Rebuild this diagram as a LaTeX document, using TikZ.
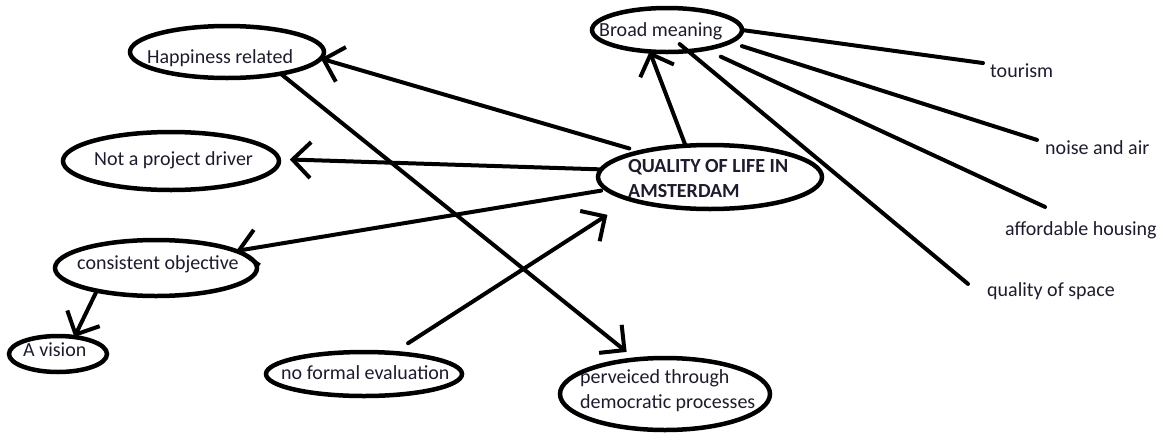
\documentclass[tikz,border=0pt]{standalone}
\usepackage{fontspec}
\setmainfont{Carlito}
\usetikzlibrary{arrows.meta,shapes.geometric}
\definecolor{ink}{RGB}{28,28,45}
\begin{document}
\begin{tikzpicture}[x=1pt,y=-1pt,
  ell/.style={draw=black, line width=4.5pt, ellipse, inner sep=0pt, outer sep=0pt},
  lbl/.style={inner sep=0pt, text=ink, font=\fontsize{20}{24.5}\selectfont, anchor=base west},
  blbl/.style={lbl, font=\bfseries\fontsize{20}{24.5}\selectfont, align=left},
  ln/.style={draw=black, line width=4pt, line cap=round},
  arr/.style={ln, -{Straight Barb[length=18pt,width=36pt]}}]
\useasboundingbox (0,0) rectangle (1162,432);

% ellipses
\node[ell, minimum width=194pt, minimum height=52pt] (hap) at (227,52) {};
\node[ell, minimum width=216pt, minimum height=58pt] (npd) at (171,161) {};
\node[ell, minimum width=150pt, minimum height=44pt] (bm)  at (667,30) {};
\node[ell, minimum width=224pt, minimum height=64pt] (qol) at (710,177) {};
\node[ell, minimum width=202pt, minimum height=56pt] (co)  at (156,268) {};
\node[ell, minimum width=98pt,  minimum height=36pt] (av)  at (58,354) {};
\node[ell, minimum width=196pt, minimum height=44pt] (nfe) at (364,374) {};
\node[ell, minimum width=210pt, minimum height=72pt] (pdp) at (665,394) {};

% texts
\node[lbl] (hapt) at (147,63) {Happiness related};
\node[lbl] (npdt) at (94,165) {Not a project driver};
\node[lbl] (bmt)  at (599,36) {Broad meaning};
\node[blbl] (qolt) at (628,197) {QUALITY OF LIFE IN\\AMSTERDAM};
\node[lbl] (cot)  at (77,269) {consistent objective};
\node[lbl] (avt)  at (23,356) {A vision};
\node[lbl] (nfet) at (281,379) {no formal evaluation};
\node[lbl, align=left] (pdpt) at (580,408) {perveiced through\\democratic processes};

\node[lbl] (tour)   at (990,77)  {tourism};
\node[lbl] (noise)  at (1045,154) {noise and air};
\node[lbl] (afford) at (1005,235) {affordable housing};
\node[lbl] (qos)    at (987,296) {quality of space};

% lines from Broad meaning
\draw[ln] (bm.east) -- ([xshift=-7pt]tour.north west);
\draw[ln, shorten <=13pt] (bm.-11) -- ([xshift=-8pt]noise.north west);
\draw[ln, shorten <=18pt] (bm.-27) -- ([xshift=40pt,yshift=14pt]afford.north west);
\draw[ln, shorten <=-11pt] (bm.-45) -- ([xshift=-19pt,yshift=-2pt]qos.north west);

% arrows
\draw[arr] (qol.128) -- (bm.231);
\draw[arr, shorten <=12pt] (qol.160) -- (hap.-4);
\draw[arr, shorten >=11pt] (qol.176) -- (npd.1);
\draw[arr, shorten <=6pt] (qol.187) -- (co.12);
\draw[arr] (co.201) -- (av.46);
\draw[arr, shorten <=18pt, shorten >=28pt] (nfe.36) -- (qol.196);
\draw[arr, shorten >=12pt] (hap.-22) -- (pdp.130);
\end{tikzpicture}
\end{document}
